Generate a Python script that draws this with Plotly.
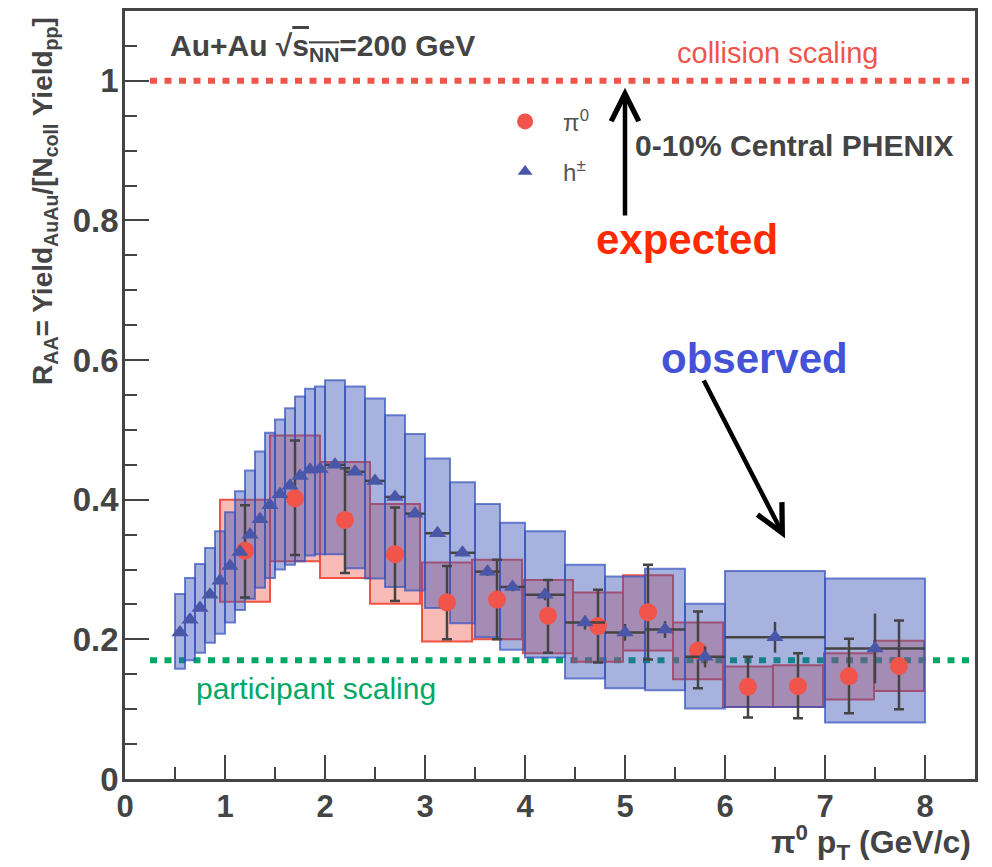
import plotly.graph_objects as go

# ---------------- data ----------------
# pi0 (red circles)
pi0_pt = [1.2, 1.7, 2.2, 2.7, 3.22, 3.72, 4.23, 4.73, 5.23, 5.73, 6.23, 6.73, 7.24, 7.74]
pi0_raa = [0.327, 0.402, 0.371, 0.322, 0.253, 0.257, 0.234, 0.219, 0.239, 0.184, 0.132, 0.133, 0.147, 0.162]
pi0_stat_lo = [0.260, 0.321, 0.295, 0.255, 0.200, 0.200, 0.181, 0.167, 0.171, 0.130, 0.088, 0.087, 0.094, 0.100]
pi0_stat_hi = [0.392, 0.485, 0.445, 0.389, 0.305, 0.314, 0.285, 0.271, 0.307, 0.240, 0.175, 0.180, 0.201, 0.227]
pi0_sys_lo = [0.254, 0.312, 0.288, 0.251, 0.197, 0.200, 0.180, 0.168, 0.184, 0.143, 0.103, 0.103, 0.114, 0.126]
pi0_sys_hi = [0.400, 0.492, 0.454, 0.394, 0.310, 0.314, 0.285, 0.267, 0.292, 0.224, 0.161, 0.163, 0.180, 0.198]
pi0_box_half = 0.25

# h+- (blue triangles), bin edges
h_edges = [0.5, 0.6, 0.7, 0.8, 0.9, 1.0, 1.1, 1.2, 1.3, 1.4, 1.5, 1.6, 1.7, 1.8, 1.9, 2.0,
           2.2, 2.4, 2.6, 2.8, 3.0, 3.25, 3.5, 3.75, 4.0, 4.4, 4.8, 5.2, 5.6, 6.0, 7.0, 8.0]
h_raa = [0.210, 0.228, 0.245, 0.264, 0.284, 0.305, 0.325, 0.350, 0.372, 0.392, 0.408, 0.420,
         0.434, 0.443, 0.444, 0.450, 0.440, 0.427, 0.404, 0.380, 0.352, 0.324, 0.297, 0.275,
         0.264, 0.224, 0.210, 0.214, 0.175, 0.203, 0.187]
h_stat = [0.003, 0.003, 0.003, 0.003, 0.003, 0.003, 0.003, 0.003, 0.003, 0.003, 0.003, 0.003,
          0.003, 0.003, 0.003, 0.003, 0.003, 0.003, 0.003, 0.004, 0.005, 0.005, 0.006, 0.006,
          0.008, 0.010, 0.012, 0.012, 0.015, 0.022, 0.050]
h_sys_lo = [0.158, 0.170, 0.181, 0.195, 0.208, 0.224, 0.242, 0.258, 0.274, 0.288, 0.300, 0.307,
            0.312, 0.320, 0.322, 0.322, 0.302, 0.287, 0.275, 0.270, 0.245, 0.223, 0.203, 0.185,
            0.174, 0.144, 0.130, 0.127, 0.101, 0.103, 0.081]
h_sys_hi = [0.265, 0.288, 0.308, 0.331, 0.355, 0.382, 0.412, 0.442, 0.469, 0.496, 0.515, 0.531,
            0.548, 0.559, 0.562, 0.571, 0.562, 0.545, 0.521, 0.494, 0.459, 0.425, 0.394, 0.367,
            0.355, 0.307, 0.290, 0.301, 0.251, 0.298, 0.287]

coll_scaling = 1.0
part_scaling = 0.17
scaling_x = [0.25, 8.5]

x_ticks = [0, 1, 2, 3, 4, 5, 6, 7, 8]
y_ticks = [0, 0.2, 0.4, 0.6, 0.8, 1.0]
y_tick_labels = ["0", "0.2", "0.4", "0.6", "0.8", "1"]

# ---------------- styling ----------------
RED = "#F0544A"
RED_FILL = "rgba(240,85,70,0.40)"
RED_LINE = "rgba(240,75,60,0.95)"
BLUE_FILL = "rgba(55,80,180,0.44)"
BLUE_LINE = "rgba(55,85,190,0.72)"
TRI = "#4A56A8"
GREEN = "#00A866"
DARK = "#444444"
FONT = "Liberation Sans"

h_pt = [(h_edges[i] + h_edges[i + 1]) / 2 for i in range(len(h_raa))]
h_halfw = [(h_edges[i + 1] - h_edges[i]) / 2 for i in range(len(h_raa))]

shapes = []
# scaling lines (below boxes)
shapes.append(dict(type="line", xref="x", yref="y", x0=scaling_x[0], x1=scaling_x[1],
                   y0=part_scaling, y1=part_scaling, layer="below",
                   line=dict(color=GREEN, width=6, dash="7px,7.5px")))
shapes.append(dict(type="line", xref="x", yref="y", x0=scaling_x[0], x1=scaling_x[1],
                   y0=coll_scaling, y1=coll_scaling, layer="below",
                   line=dict(color=RED, width=6, dash="7px,7.5px")))
for x, lo, hi in zip(pi0_pt, pi0_sys_lo, pi0_sys_hi):
    shapes.append(dict(type="rect", xref="x", yref="y", x0=x - pi0_box_half, x1=x + pi0_box_half,
                       y0=lo, y1=hi, layer="below", fillcolor=RED_FILL,
                       line=dict(color=RED_LINE, width=2)))
for i in range(len(h_raa)):
    shapes.append(dict(type="rect", xref="x", yref="y", x0=h_edges[i], x1=h_edges[i + 1],
                       y0=h_sys_lo[i], y1=h_sys_hi[i], layer="below", fillcolor=BLUE_FILL,
                       line=dict(color=BLUE_LINE, width=2)))

fig = go.Figure()

fig.add_trace(go.Scatter(
    x=pi0_pt, y=pi0_raa, mode="markers", showlegend=False,
    marker=dict(symbol="circle", size=18, color=RED),
    error_y=dict(type="data", symmetric=False,
                 array=[h - v for h, v in zip(pi0_stat_hi, pi0_raa)],
                 arrayminus=[v - l for l, v in zip(pi0_stat_lo, pi0_raa)],
                 color=DARK, thickness=2.5, width=5),
))
fig.add_trace(go.Scatter(
    x=h_pt, y=h_raa, mode="markers", showlegend=False,
    marker=dict(symbol="triangle-up", size=15, color=TRI),
    error_x=dict(type="data", array=h_halfw, color=DARK, thickness=2.5, width=0),
    error_y=dict(type="data", array=h_stat, color=DARK, thickness=2.5, width=0),
))
# legend entries
fig.add_trace(go.Scatter(x=[None], y=[None], mode="markers", name="π<sup>0</sup>",
                         legendgroup="a", marker=dict(symbol="circle", size=16, color=RED)))
fig.add_trace(go.Scatter(x=[None], y=[None], mode="markers", name="h<sup>±</sup>",
                         legendgroup="b", marker=dict(symbol="triangle-up", size=13, color=TRI)))

annotations = [
    dict(xref="paper", yref="paper", x=0.0506, y=0.952, xanchor="left", yanchor="middle",
         text="<b>Au+Au √<span style='text-decoration:overline'>s<sub>NN</sub></span>=200 GeV</b>",
         showarrow=False, font=dict(family=FONT, size=30, color=DARK)),
    dict(xref="paper", yref="paper", x=0.768, y=0.945, xanchor="center", yanchor="middle",
         text="collision scaling", showarrow=False, font=dict(family=FONT, size=29, color=RED)),
    dict(xref="paper", yref="paper", x=0.598, y=0.825, xanchor="left", yanchor="middle",
         text="<b>0-10% Central PHENIX</b>", showarrow=False,
         font=dict(family=FONT, size=30, color=DARK)),
    dict(xref="paper", yref="paper", x=0.661, y=0.703, xanchor="center", yanchor="middle",
         text="<b>expected</b>", showarrow=False, font=dict(family=FONT, size=42, color="#FF2A00")),
    dict(xref="paper", yref="paper", x=0.741, y=0.547, xanchor="center", yanchor="middle",
         text="<b>observed</b>", showarrow=False, font=dict(family=FONT, size=42, color="#4452D6")),
    dict(xref="paper", yref="paper", x=0.225, y=0.118, xanchor="center", yanchor="middle",
         text="participant scaling", showarrow=False, font=dict(family=FONT, size=30, color=GREEN)),
    # arrows
    dict(xref="x", yref="y", axref="x", ayref="y", x=5.0, y=0.99, ax=5.0, ay=0.805,
         text="", showarrow=True, arrowhead=5, arrowwidth=4.5, arrowsize=1.2, arrowcolor="black"),
    dict(xref="x", yref="y", axref="x", ayref="y", x=6.6, y=0.345, ax=5.78, ay=0.573,
         text="", showarrow=True, arrowhead=5, arrowwidth=4.5, arrowsize=1.2, arrowcolor="black"),
    # axis titles
    dict(xref="paper", yref="paper", x=0.9965, y=-0.1135, xanchor="right", yanchor="bottom",
         text="<b>π<sup>0</sup> p<sub>T</sub> (GeV/c)</b>", showarrow=False, borderpad=0,
         font=dict(family=FONT, size=32, color=DARK)),
    dict(xref="paper", yref="paper", x=-0.094, y=0.995, xanchor="center", yanchor="top",
         textangle=-90,
         text="<b>R<sub>AA</sub>= Yield<sub>AuAu</sub>/[N<sub>coll</sub> Yield<sub>pp</sub>]</b>",
         showarrow=False, font=dict(family=FONT, size=28, color=DARK)),
]

fig.update_layout(
    width=992, height=867,
    margin=dict(l=125, r=17, t=8, b=88),
    paper_bgcolor="white", plot_bgcolor="white",
    shapes=shapes, annotations=annotations,
    showlegend=True,
    legend=dict(x=0.426, y=0.885, xanchor="left", yanchor="top", bgcolor="rgba(0,0,0,0)",
                font=dict(family=FONT, size=24, color="#555555"),
                itemwidth=66, tracegroupgap=16),
    xaxis=dict(range=[0, 8.5], tickvals=x_ticks, ticks="inside", ticklen=24, tickwidth=2,
               tickcolor=DARK, showline=True, linecolor=DARK, linewidth=2.5, mirror=True,
               showgrid=False, zeroline=False, ticklabelstandoff=-2,
               tickfont=dict(family=FONT, size=31, color=DARK, weight="bold"),
               minor=dict(dtick=0.5, ticks="inside", ticklen=12, tickwidth=2, tickcolor=DARK,
                          showgrid=False)),
    yaxis=dict(range=[0, 1.1], tickvals=y_ticks, ticktext=y_tick_labels, ticks="inside",
               ticklen=24, tickwidth=2, tickcolor=DARK, showline=True, linecolor=DARK,
               linewidth=2.5, mirror=True, showgrid=False, zeroline=False,
               ticklabelstandoff=-3,
               tickfont=dict(family=FONT, size=33, color=DARK, weight="bold"),
               minor=dict(dtick=0.05, ticks="inside", ticklen=12, tickwidth=2, tickcolor=DARK,
                          showgrid=False)),
)

fig.write_html("out.html")
